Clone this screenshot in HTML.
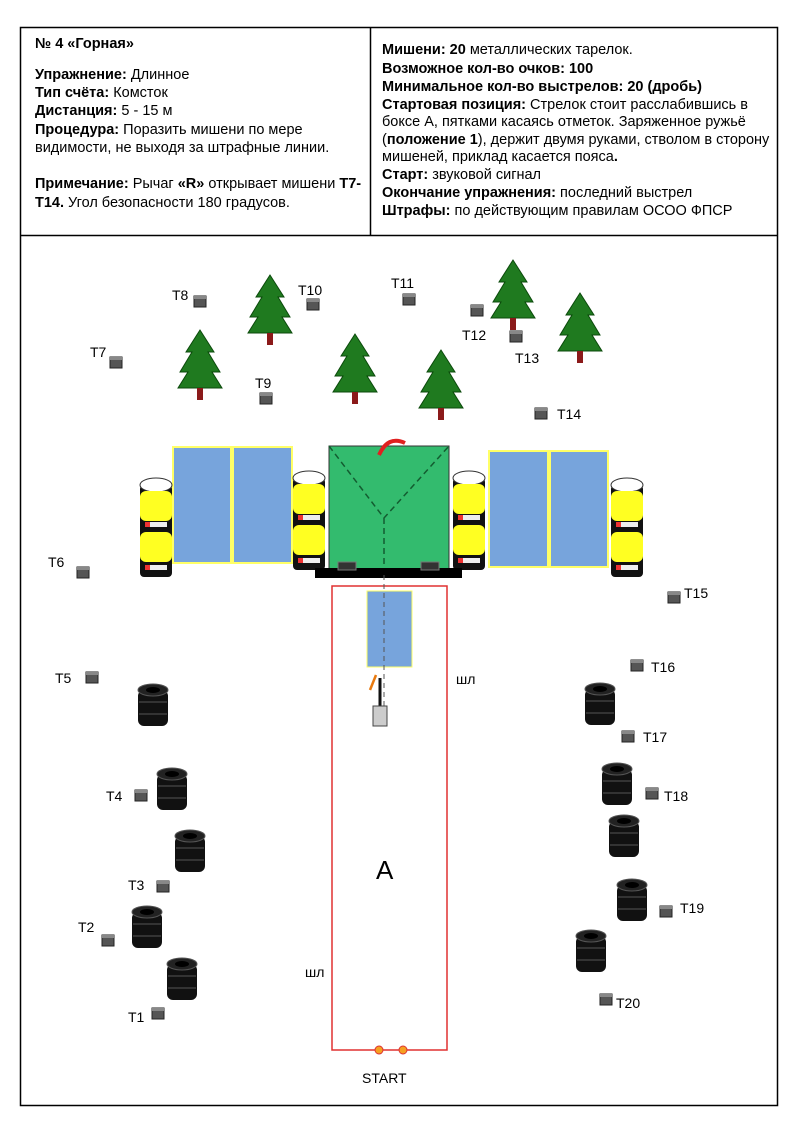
<!DOCTYPE html>
<html><head><meta charset="utf-8"><style>
body{margin:0;background:#fff}
svg{display:block}
text{font-family:"Liberation Sans",sans-serif;font-size:14px;fill:#000}
.h{font-size:14.5px}
.b{font-weight:bold}
</style></head><body>
<svg width="796" height="1124" viewBox="0 0 796 1124" xmlns="http://www.w3.org/2000/svg">
<defs>
<g id="tree"><polygon points="22,0 8,22 14,22 2,42 10,42 0,58 44,58 34,42 42,42 30,22 36,22" fill="#1f7a1f" stroke="#0b4a0b" stroke-width="1"/><rect x="19" y="58" width="6" height="12" fill="#8b1a1a"/></g>
<g id="tgt"><rect x="0" y="0" width="12" height="11" fill="#555" stroke="#222"/><rect x="0" y="0" width="12" height="3" fill="#888"/></g>
<g id="tire"><rect x="0" y="6" width="30" height="36" rx="6" fill="#111"/><ellipse cx="15" cy="6" rx="15" ry="6" fill="#222" stroke="#555"/><ellipse cx="15" cy="6" rx="7" ry="3" fill="#000"/><line x1="1" y1="18" x2="29" y2="18" stroke="#555"/><line x1="1" y1="30" x2="29" y2="30" stroke="#555"/></g>
<g id="barrel"><rect x="0" y="8" width="32" height="92" rx="4" fill="#111"/><ellipse cx="16" cy="8" rx="16" ry="7" fill="#fff" stroke="#333"/><rect x="0" y="14" width="32" height="30" rx="6" fill="#ffff22"/><rect x="0" y="55" width="32" height="30" rx="6" fill="#ffff22"/><rect x="5" y="45" width="22" height="5" fill="#eee"/><rect x="5" y="45" width="5" height="5" fill="#e33"/><rect x="5" y="88" width="22" height="5" fill="#eee"/><rect x="5" y="88" width="5" height="5" fill="#e33"/></g>
</defs>
<rect x="20.5" y="27.5" width="757" height="1078" fill="none" stroke="#000" stroke-width="1.5"/>
<line x1="20" y1="235.5" x2="777" y2="235.5" stroke="#000" stroke-width="1.5"/>
<line x1="370.5" y1="27" x2="370.5" y2="235" stroke="#000" stroke-width="1.5"/>
<g class="h">
<text x="35" y="48" class="b h">№ 4 «Горная»</text>
<text x="35" y="79" class="h"><tspan class="b">Упражнение:</tspan> Длинное</text>
<text x="35" y="97" class="h"><tspan class="b">Тип счёта:</tspan> Комсток</text>
<text x="35" y="115" class="h"><tspan class="b">Дистанция:</tspan> 5 - 15 м</text>
<text x="35" y="134" class="h"><tspan class="b">Процедура:</tspan> Поразить  мишени  по мере</text>
<text x="35" y="152" class="h">видимости, не выходя за штрафные линии.</text>
<text x="35" y="188" class="h"><tspan class="b">Примечание:</tspan> Рычаг <tspan class="b">«R»</tspan> открывает мишени <tspan class="b">T7-</tspan></text>
<text x="35" y="207" class="h"><tspan class="b">T14.</tspan> Угол безопасности 180 градусов.</text>
<text x="382" y="54" class="h"><tspan class="b">Мишени: 20</tspan> металлических тарелок.</text>
<text x="382" y="73" class="b h">Возможное кол-во очков: 100</text>
<text x="382" y="91" class="b h">Минимальное кол-во выстрелов: 20 (дробь)</text>
<text x="382" y="109" class="h"><tspan class="b">Стартовая позиция:</tspan>  Стрелок стоит расслабившись в</text>
<text x="382" y="126" class="h">боксе А, пятками касаясь отметок. Заряженное ружьё</text>
<text x="382" y="144" class="h">(<tspan class="b">положение 1</tspan>), держит двумя руками, стволом в сторону</text>
<text x="382" y="161" class="h">мишеней, приклад касается пояса<tspan class="b">.</tspan></text>
<text x="382" y="179" class="h"><tspan class="b">Старт:</tspan> звуковой сигнал</text>
<text x="382" y="197" class="h"><tspan class="b">Окончание упражнения:</tspan> последний выстрел</text>
<text x="382" y="215" class="h"><tspan class="b">Штрафы:</tspan> по действующим правилам ОСОО ФПСР</text>
</g>

<use href="#tree" x="248" y="275"/>
<use href="#tree" x="178" y="330"/>
<use href="#tree" x="333" y="334"/>
<use href="#tree" x="419" y="350"/>
<use href="#tree" x="491" y="260"/>
<use href="#tree" x="558" y="293"/>

<use href="#tgt" x="194" y="296"/><text x="172" y="300">T8</text>
<use href="#tgt" x="307" y="299"/><text x="298" y="295">T10</text>
<use href="#tgt" x="403" y="294"/><text x="391" y="288">T11</text>
<use href="#tgt" x="471" y="305"/><text x="462" y="340">T12</text>
<use href="#tgt" x="510" y="331"/><text x="515" y="363">T13</text>
<use href="#tgt" x="110" y="357"/><text x="90" y="357">T7</text>
<use href="#tgt" x="260" y="393"/><text x="255" y="388">T9</text>
<use href="#tgt" x="535" y="408"/><text x="557" y="419">T14</text>
<use href="#tgt" x="77" y="567"/><text x="48" y="567">T6</text>
<use href="#tgt" x="668" y="592"/><text x="684" y="598">T15</text>
<use href="#tgt" x="631" y="660"/><text x="651" y="672">T16</text>
<use href="#tgt" x="86" y="672"/><text x="55" y="683">T5</text>
<use href="#tgt" x="622" y="731"/><text x="643" y="742">T17</text>
<use href="#tgt" x="135" y="790"/><text x="106" y="801">T4</text>
<use href="#tgt" x="646" y="788"/><text x="664" y="801">T18</text>
<use href="#tgt" x="157" y="881"/><text x="128" y="890">T3</text>
<use href="#tgt" x="660" y="906"/><text x="680" y="913">T19</text>
<use href="#tgt" x="102" y="935"/><text x="78" y="932">T2</text>
<use href="#tgt" x="152" y="1008"/><text x="128" y="1022">T1</text>
<use href="#tgt" x="600" y="994"/><text x="616" y="1008">T20</text>

<use href="#tire" x="138" y="684"/>
<use href="#tire" x="157" y="768"/>
<use href="#tire" x="175" y="830"/>
<use href="#tire" x="132" y="906"/>
<use href="#tire" x="167" y="958"/>
<use href="#tire" x="585" y="683"/>
<use href="#tire" x="602" y="763"/>
<use href="#tire" x="609" y="815"/>
<use href="#tire" x="617" y="879"/>
<use href="#tire" x="576" y="930"/>

<rect x="173" y="447" width="58" height="116" fill="#77a4dc" stroke="#ffff66" stroke-width="2"/>
<rect x="233" y="447" width="59" height="116" fill="#77a4dc" stroke="#ffff66" stroke-width="2"/>
<rect x="489" y="451" width="59" height="116" fill="#77a4dc" stroke="#ffff66" stroke-width="2"/>
<rect x="550" y="451" width="58" height="116" fill="#77a4dc" stroke="#ffff66" stroke-width="2"/>
<use href="#barrel" x="140" y="477"/>
<use href="#barrel" x="293" y="470"/>
<use href="#barrel" x="453" y="470"/>
<use href="#barrel" x="611" y="477"/>
<rect x="329" y="446" width="120" height="124" fill="#33bb6e" stroke="#333"/>
<path d="M329 446 L384 518 L449 446 M384 518 L384 570" stroke="#135c30" stroke-width="1.5" stroke-dasharray="6,4" fill="none"/>
<path d="M379 455 Q388 435 405 443" stroke="#e02020" stroke-width="4" fill="none"/>
<rect x="315" y="568" width="147" height="10" fill="#000"/>
<rect x="338" y="562" width="18" height="8" fill="#333" stroke="#777"/>
<rect x="421" y="562" width="18" height="8" fill="#333" stroke="#777"/>

<rect x="332" y="586" width="115" height="464" fill="none" stroke="#e03030" stroke-width="1.5"/>
<rect x="367" y="591" width="45" height="76" fill="#77a4dc" stroke="#ffff66"/>
<line x1="384" y1="575" x2="384" y2="720" stroke="#555" stroke-dasharray="5,4"/>
<line x1="380" y1="678" x2="380" y2="710" stroke="#111" stroke-width="3"/>
<rect x="373" y="706" width="14" height="20" fill="#ccc" stroke="#444"/>
<line x1="370" y1="690" x2="376" y2="675" stroke="#e87a10" stroke-width="2.5"/>
<text x="456" y="684">шл</text>
<text x="305" y="977">шл</text>
<text x="376" y="879" style="font-size:26px">A</text>
<circle cx="379" cy="1050" r="4" fill="#f5a020" stroke="#d33"/>
<circle cx="403" cy="1050" r="4" fill="#f5a020" stroke="#d33"/>
<text x="362" y="1083">START</text>
</svg>
</body></html>
